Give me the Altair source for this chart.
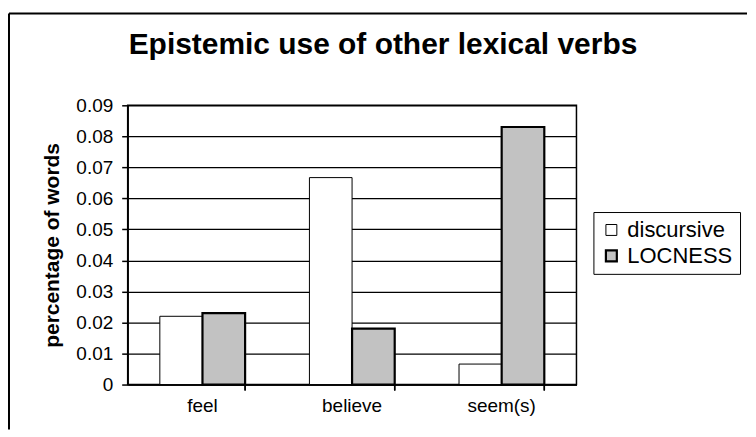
import altair as alt
import pandas as pd

categories = ["feel", "believe", "seem(s)"]
series_names = ["discursive", "LOCNESS"]
discursive = [0.022, 0.0667, 0.0066]
locness = [0.023, 0.018, 0.083]
y_ticks = [0, 0.01, 0.02, 0.03, 0.04, 0.05, 0.06, 0.07, 0.08, 0.09]
chart_title = "Epistemic use of other lexical verbs"
y_title = "percentage of words"

rows = []
for i, c in enumerate(categories):
    rows.append({"verb": c, "series": series_names[0], "value": discursive[i]})
    rows.append({"verb": c, "series": series_names[1], "value": locness[i]})
df = pd.DataFrame(rows)

FONT = "Liberation Sans"
W, H = 450, 280

xenc = alt.X("verb:N", sort=categories, title=None,
             scale=alt.Scale(paddingInner=0.43, paddingOuter=0.215),
             axis=alt.Axis(labelFontSize=19, labelFont=FONT, labelColor="black",
                           labelAngle=0, ticks=False, tickSize=0, labelPadding=12,
                           domainColor="black", domainWidth=1.5, grid=False))

bars = alt.Chart(df).mark_bar(stroke="black").encode(
    x=xenc,
    xOffset=alt.XOffset("series:N", sort=series_names),
    y=alt.Y("value:Q", title=y_title,
            scale=alt.Scale(domain=[0, 0.09], nice=False),
            axis=alt.Axis(values=y_ticks, format=".2~f", labelFontSize=19,
                          labelFont=FONT, labelColor="black", tickColor="black",
                          tickSize=6, tickWidth=1.5, labelPadding=9,
                          domainColor="black", domainWidth=1.5,
                          grid=True, gridColor="black", gridWidth=1.3,
                          titleFont=FONT, titleFontSize=21, titleFontWeight="bold",
                          titleColor="black", titlePadding=13)),
    fill=alt.Fill("series:N", sort=series_names,
                  scale=alt.Scale(domain=series_names, range=["white", "#c2c2c2"]),
                  legend=alt.Legend(title=None, orient="none", legendX=467, legendY=107,
                                    labelFont=FONT, labelFontSize=22, labelColor="black",
                                    symbolType="square", symbolSize=120,
                                    symbolStrokeColor="black", symbolStrokeWidth=1.5,
                                    strokeColor="black", padding=7, rowPadding=4,
                                    labelOffset=5)),
    strokeWidth=alt.StrokeWidth("series:N", sort=series_names,
                                scale=alt.Scale(domain=series_names, range=[1, 2.2]),
                                legend=None),
)

ticks = alt.Chart(df).mark_rule(color="black", strokeWidth=1.5).encode(
    x=alt.X("verb:N", sort=categories, bandPosition=1),
    y=alt.value(H),
    y2=alt.value(H + 6),
)

title_df = pd.DataFrame({"t": [chart_title]})
title = alt.Chart(title_df).mark_text(
    font=FONT, fontSize=30, fontWeight="bold", color="black",
    align="center", baseline="alphabetic"
).encode(x=alt.value(256), y=alt.value(-51), text="t:N")

frame_top = alt.Chart(title_df).mark_rule(color="black", strokeWidth=2).encode(
    x=alt.value(-119), x2=alt.value(621), y=alt.value(-92))
frame_left = alt.Chart(title_df).mark_rule(color="black", strokeWidth=2).encode(
    x=alt.value(-119), y=alt.value(-92), y2=alt.value(325))

chart = alt.layer(bars, ticks, title, frame_top, frame_left).properties(
    width=W, height=H,
    padding={"left": 0, "top": 4, "right": 0, "bottom": 0},
    background="white",
).configure_view(stroke="black", strokeWidth=1.5)

chart.save("out.html", embed_options={"renderer": "svg", "actions": False})
